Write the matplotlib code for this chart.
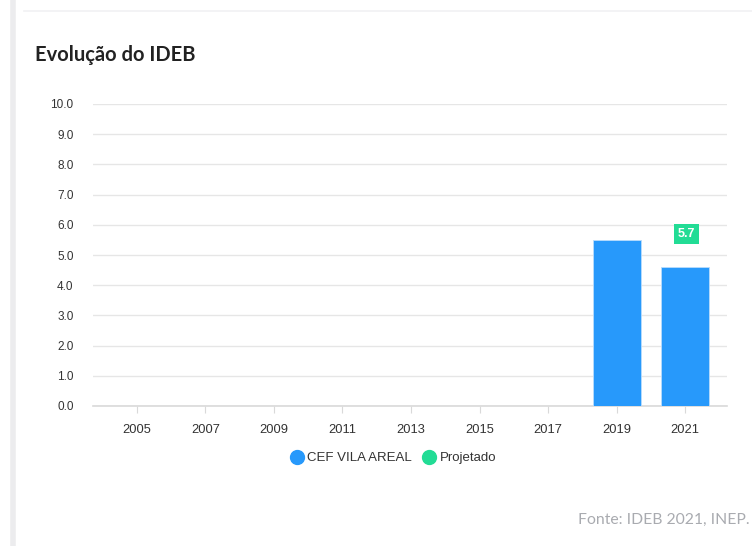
import matplotlib.pyplot as plt
from matplotlib.lines import Line2D
import numpy as np

years = ['2005', '2007', '2009', '2011', '2013', '2015', '2017', '2019', '2021']
escola = [None, None, None, None, None, None, None, 5.5, 4.6]
projetado = [None, None, None, None, None, None, None, None, 5.7]

BLUE = '#2799fb'
GREEN = '#22dc95'

fig = plt.figure(figsize=(7.52, 5.46), dpi=100)
W, H = 752, 546

# page decorations
fig.add_artist(Line2D([13 / W, 13 / W], [0, 1], color='#ececee', lw=4))
fig.add_artist(Line2D([24 / W, 1], [1 - 11 / H, 1 - 11 / H], color='#f1f1f3', lw=1.2))
fig.text(35 / W, 1 - 55 / H, 'Evolução do IDEB', fontsize=14.5, fontweight='bold',
         family='Lato', color='#222222', va='center')
fig.text(750 / W, 1 - 520 / H, 'Fonte: IDEB 2021, INEP.', fontsize=11.3,
         family='Lato', color='#a9abb0', va='center', ha='right')

ax = fig.add_axes([93 / W, 1 - 406 / H, (727 - 93) / W, (406 - 104) / H])
x = np.arange(len(years))
for i, v in enumerate(escola):
    if v is not None:
        ax.bar(x[i], v, width=0.7, color=BLUE, edgecolor='#b9dcfd', linewidth=0.6, zorder=3)
for i, v in enumerate(projetado):
    if v is not None:
        ax.text(x[i] + 0.02, v, f'{v:.1f}', ha='center', va='center', fontsize=9,
                fontweight='bold', color='white', family='Liberation Sans', zorder=4,
                bbox=dict(boxstyle='square,pad=0.3', fc=GREEN, ec='none'))

ax.set_ylim(0, 10)
ax.set_xlim(-0.64, len(years) - 1 + 0.61)
ax.set_yticks(np.arange(0, 11, 1))
ax.set_yticklabels([f'{t:.1f}' for t in range(11)])
ax.set_xticks(x)
ax.set_xticklabels(years)
ax.grid(axis='y', color='#e6e6e6', lw=1, zorder=0)
for s in ['top', 'right', 'left']:
    ax.spines[s].set_visible(False)
ax.spines['bottom'].set_color('#d9d9d9')
ax.spines['bottom'].set_linewidth(1.2)
ax.tick_params(axis='y', length=0, pad=14, labelsize=8.5, labelcolor='#333333')
ax.tick_params(axis='x', length=5, color='#d9d9d9', pad=8, labelsize=9.3, labelcolor='#333333')
for lab in ax.get_xticklabels() + ax.get_yticklabels():
    lab.set_family('Liberation Sans')

handles = [Line2D([], [], marker='o', ls='', ms=10, color=BLUE, label='CEF VILA AREAL'),
           Line2D([], [], marker='o', ls='', ms=10, color=GREEN, label='Projetado')]
fig.legend(handles=handles, loc='center', bbox_to_anchor=(393 / W, 1 - 458 / H), ncol=2,
           frameon=False, handletextpad=0.3, columnspacing=0.8, handlelength=1.0,
           labelcolor='#333333', prop={'family': 'Liberation Sans', 'size': 9.5})

fig.savefig('out.png', dpi=100)
